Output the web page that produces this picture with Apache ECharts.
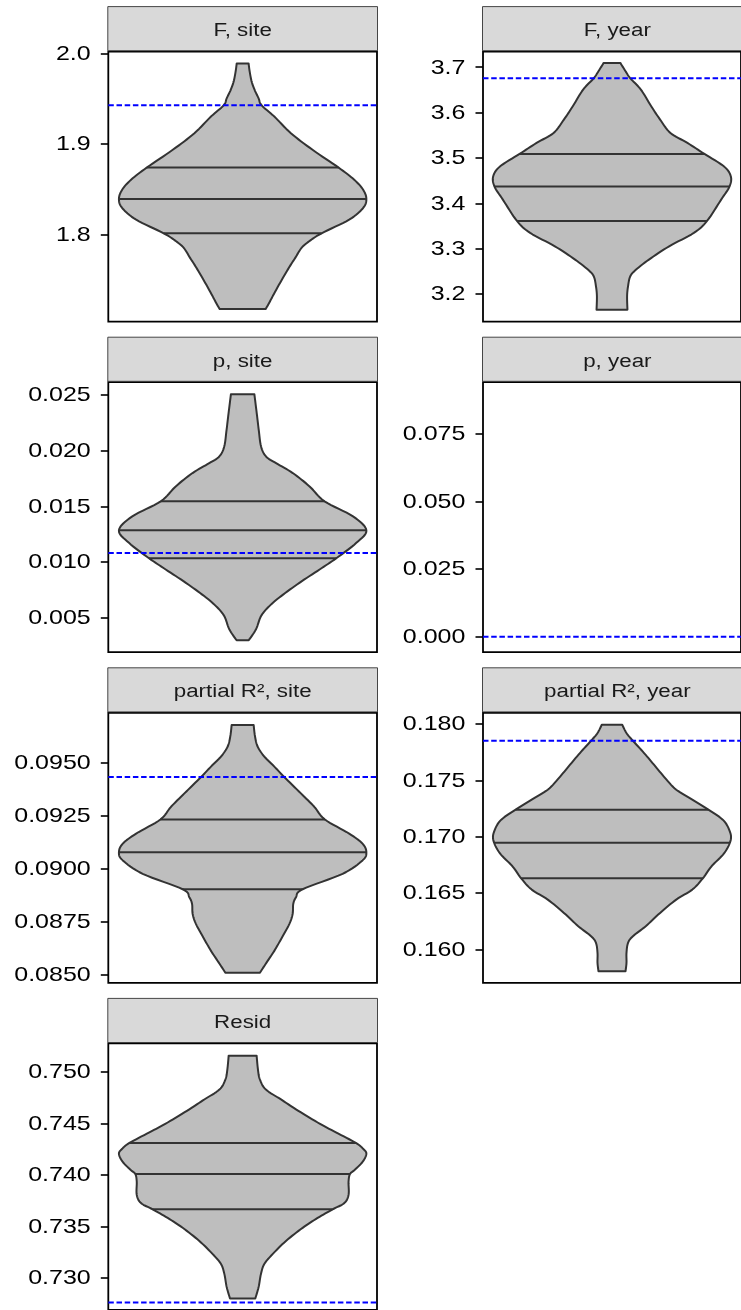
<!DOCTYPE html>
<html>
<head>
<meta charset="utf-8">
<script src="https://cdn.jsdelivr.net/npm/echarts@6/dist/echarts.min.js"></script>
<style>
  html, body { margin: 0; padding: 0; background: #ffffff; }
  #chart { width: 741px; height: 1310px; }
</style>
</head>
<body>
<div id="chart"></div>
<script>
// ---- Facet titles (row by row, left column then right column) ----
const panelTitles = ["F, site", "F, year", "p, site", "p, year",
                     "partial R\u00b2, site", "partial R\u00b2, year", "Resid"];

// ---- Y-axis limits per panel ----
const yMin = [1.7045, 3.1390, 0.0019, -0.0057, 0.0846, 0.15705, 0.72691];
const yMax = [2.0020, 3.7345, 0.02615, 0.0940, 0.09735, 0.18100, 0.75279];

// ---- Tick labels per panel ----
const tickLabels = [
  ["1.8", "1.9", "2.0"],
  ["3.2", "3.3", "3.4", "3.5", "3.6", "3.7"],
  ["0.005", "0.010", "0.015", "0.020", "0.025"],
  ["0.000", "0.025", "0.050", "0.075"],
  ["0.0850", "0.0875", "0.0900", "0.0925", "0.0950"],
  ["0.160", "0.165", "0.170", "0.175", "0.180"],
  ["0.730", "0.735", "0.740", "0.745", "0.750"]
];

// ---- Observed value (dashed reference line) per panel ----
const observed = [1.9429, 3.6757, 0.01082, 0.0, 0.09432, 0.17852, 0.72764];

// ---- Violin outlines: y positions (top to bottom) and relative half-widths ----
const fSiteY = [1.9890, 1.9799, 1.9689, 1.9597, 1.9505, 1.9429, 1.9304, 1.9121, 1.8938, 1.8744,
                1.8608, 1.8498, 1.8396, 1.8297, 1.8168, 1.8018, 1.7930, 1.7857, 1.7747, 1.7656,
                1.7509, 1.7363, 1.7253, 1.7183];
const fSiteW = [0.048, 0.057, 0.073, 0.097, 0.129, 0.153, 0.256, 0.390, 0.565, 0.773,
                0.902, 0.974, 1.000, 0.974, 0.861, 0.638, 0.538, 0.476, 0.425, 0.382,
                0.318, 0.258, 0.215, 0.186];

const fYearY = [3.7096, 3.6912, 3.6757, 3.6507, 3.6140, 3.5846, 3.5551, 3.5331, 3.5088, 3.4816,
                3.4596, 3.4368, 3.4081, 3.3610, 3.3346, 3.3051, 3.2757, 3.2537, 3.2390, 3.2169,
                3.1949, 3.1654];
const fYearW = [0.070, 0.114, 0.154, 0.243, 0.330, 0.405, 0.492, 0.635, 0.778, 0.941,
                1.000, 0.989, 0.919, 0.800, 0.689, 0.481, 0.311, 0.203, 0.154, 0.135,
                0.127, 0.130];

const pSiteY = [0.02506, 0.02336, 0.02187, 0.02037, 0.01948, 0.01888, 0.01799, 0.01679, 0.01545, 0.01410,
                0.01285, 0.01172, 0.01034, 0.00933, 0.00813, 0.00694, 0.00604, 0.00515, 0.00396, 0.00297];
const pSiteW = [0.095, 0.114, 0.130, 0.149, 0.189, 0.270, 0.405, 0.541, 0.662, 0.892,
                1.000, 0.919, 0.757, 0.622, 0.459, 0.311, 0.216, 0.149, 0.108, 0.049];

const r2SiteY = [0.096772, 0.096234, 0.095759, 0.095285, 0.094810, 0.094320, 0.093544, 0.092911, 0.092310, 0.091646,
                 0.091171, 0.090759, 0.090380, 0.089747, 0.089019, 0.088639, 0.088323, 0.087848, 0.087373, 0.086741,
                 0.086108, 0.085633, 0.085079];
const r2SiteW = [0.089, 0.100, 0.121, 0.175, 0.256, 0.336, 0.471, 0.579, 0.665, 0.861,
                 0.969, 1.000, 0.969, 0.808, 0.485, 0.431, 0.409, 0.404, 0.377, 0.318,
                 0.256, 0.202, 0.140];

const r2YearY = [0.179941, 0.179202, 0.178523, 0.177430, 0.176248, 0.175067, 0.174180, 0.173294, 0.172408, 0.171521,
                 0.170635, 0.169749, 0.168567, 0.167386, 0.166322, 0.165318, 0.164431, 0.163250, 0.162068, 0.161182,
                 0.160591, 0.159705, 0.158818, 0.158080];
const r2YearW = [0.086, 0.122, 0.176, 0.270, 0.365, 0.459, 0.541, 0.676, 0.811, 0.932,
                 0.986, 1.000, 0.946, 0.838, 0.765, 0.676, 0.541, 0.405, 0.284, 0.176,
                 0.135, 0.122, 0.122, 0.114];

const residY = [0.751597, 0.750224, 0.749265, 0.748307, 0.747348, 0.746390, 0.745112, 0.744153, 0.743131, 0.742556,
                0.742077, 0.741278, 0.740479, 0.740096, 0.739361, 0.738083, 0.737284, 0.736677, 0.735847, 0.734888,
                0.733610, 0.732332, 0.731374, 0.730415, 0.729137, 0.728019];
const residW = [0.113, 0.124, 0.140, 0.188, 0.310, 0.431, 0.606, 0.754, 0.915, 0.974,
                1.000, 0.969, 0.902, 0.867, 0.856, 0.856, 0.821, 0.727, 0.606, 0.485,
                0.350, 0.242, 0.175, 0.148, 0.129, 0.102];

// ---- Quartiles (25%, 50%, 75%) per panel ----
const fSiteQ  = [1.8018, 1.8396, 1.8744];
const fYearQ  = [3.3610, 3.4368, 3.5088];
const pSiteQ  = [0.01034, 0.01285, 0.01545];
const r2SiteQ = [0.089019, 0.090759, 0.092310];
const r2YearQ = [0.16632, 0.16948, 0.17241];
const residQ  = [0.73668, 0.74010, 0.74313];

// Violin data per panel (null: nothing drawn)
const violins = [
  { y: fSiteY,  w: fSiteW,  q: fSiteQ },
  { y: fYearY,  w: fYearW,  q: fYearQ },
  { y: pSiteY,  w: pSiteW,  q: pSiteQ },
  null,
  { y: r2SiteY, w: r2SiteW, q: r2SiteQ },
  { y: r2YearY, w: r2YearW, q: r2YearQ },
  { y: residY,  w: residW,  q: residQ }
];

// ---- Layout ----
const COL_LEFT = [108.3, 483.0];
const PANEL_W = 268.7;
const PANEL_H = 270;
const FIRST_TOP = 51.6;
const ROW_STEP = 330.6;
const STRIP_H = 45;
const X_HALF = 0.6;          // x axis spans [-0.6, 0.6]
const VIOLIN_HALF = 0.5525;  // max half-width of a violin in x units
const TEXT_WIDEN = 1.19;     // horizontal widening of all text
const LABEL_GAP = 17.6;      // axis line to tick-label distance
const FONT = "'Liberation Sans', Arial, Helvetica, sans-serif";
const INK = '#333333';

function panelBox(i) {
  const col = i % 2, row = Math.floor(i / 2);
  return { left: COL_LEFT[col], top: FIRST_TOP + row * ROW_STEP, width: PANEL_W, height: PANEL_H };
}

// Smooth curve (Catmull-Rom) through pixel points, sampled densely
function smoothCurve(pts, steps) {
  const out = [pts[0]];
  for (let i = 0; i < pts.length - 1; i++) {
    const p0 = pts[Math.max(i - 1, 0)], p1 = pts[i], p2 = pts[i + 1], p3 = pts[Math.min(i + 2, pts.length - 1)];
    for (let s = 1; s <= steps; s++) {
      const t = s / steps, t2 = t * t, t3 = t2 * t;
      const f = function (a, b, c, d) {
        return 0.5 * ((2 * b) + (-a + c) * t + (2 * a - 5 * b + 4 * c - d) * t2 + (-a + 3 * b - 3 * c + d) * t3);
      };
      out.push([f(p0[0], p1[0], p2[0], p3[0]), f(p0[1], p1[1], p2[1], p3[1])]);
    }
  }
  return out;
}

// x of a sampled curve at pixel height py
function curveXAt(curve, py) {
  for (let i = 0; i < curve.length - 1; i++) {
    const a = curve[i], b = curve[i + 1];
    if ((py >= a[1] && py <= b[1]) || (py <= a[1] && py >= b[1])) {
      const t = b[1] === a[1] ? 0 : (py - a[1]) / (b[1] - a[1]);
      return a[0] + t * (b[0] - a[0]);
    }
  }
  return null;
}

const grids = [], xAxes = [], yAxes = [], series = [], graphics = [];

panelTitles.forEach(function (title, i) {
  const box = panelBox(i);
  grids.push({
    left: box.left, top: box.top, width: box.width, height: box.height,
    show: true, backgroundColor: '#ffffff', borderColor: '#000000', borderWidth: 1.8,
    containLabel: false
  });
  xAxes.push({ type: 'value', gridIndex: i, min: -X_HALF, max: X_HALF, show: false });

  const ticks = tickLabels[i].map(Number);
  yAxes.push({
    type: 'value', gridIndex: i, min: yMin[i], max: yMax[i], position: 'left',
    axisLine: { show: false, onZero: false },
    splitLine: { show: false },
    axisTick: { show: true, length: 7.5, customValues: ticks,
                lineStyle: { color: '#000000', width: 1.6 } },
    axisLabel: { show: false }
  });

  // Strip header
  graphics.push({
    type: 'rect', silent: true, z: 10,
    shape: { x: box.left - 0.5, y: box.top - STRIP_H, width: box.width + 1, height: STRIP_H - 0.9 },
    style: { fill: '#D9D9D9', stroke: INK, lineWidth: 0.9 }
  });
  graphics.push({
    type: 'text', silent: true, z: 11,
    x: box.left + box.width / 2, y: box.top - STRIP_H / 2 + 2, scaleX: TEXT_WIDEN,
    style: { text: title, fill: '#1A1A1A',
             font: '18.8px ' + FONT, align: 'center', verticalAlign: 'middle' }
  });

  const vio = violins[i];
  if (vio) {
    series.push({
      type: 'custom', xAxisIndex: i, yAxisIndex: i, silent: true, clip: true, z: 2,
      data: [0],
      renderItem: function (params, api) {
        const right = [], left = [];
        for (let k = 0; k < vio.y.length; k++) {
          right.push(api.coord([vio.w[k] * VIOLIN_HALF, vio.y[k]]));
          left.push(api.coord([-vio.w[k] * VIOLIN_HALF, vio.y[k]]));
        }
        const rightCurve = smoothCurve(right, 8);
        const leftCurve = smoothCurve(left, 8);
        const outline = rightCurve.concat(leftCurve.slice().reverse());
        const children = [{
          type: 'polygon',
          shape: { points: outline },
          style: { fill: '#BEBEBE', stroke: INK, lineWidth: 2, lineJoin: 'round' }
        }];
        vio.q.forEach(function (q) {
          const py = api.coord([0, q])[1];
          const xr = curveXAt(rightCurve, py), xl = curveXAt(leftCurve, py);
          children.push({
            type: 'line',
            shape: { x1: xl, y1: py, x2: xr, y2: py },
            style: { stroke: INK, lineWidth: 2 }
          });
        });
        return { type: 'group', children: children };
      }
    });
  }

  // Observed value
  series.push({
    type: 'line', xAxisIndex: i, yAxisIndex: i, silent: true, z: 3,
    symbol: 'none',
    data: [[-X_HALF, observed[i]], [X_HALF, observed[i]]],
    lineStyle: { color: '#0000FF', width: 2, type: [5.5, 2.7] }
  });
});

const chart = echarts.init(document.getElementById('chart'), null, { renderer: 'canvas' });
chart.setOption({
  animation: false,
  backgroundColor: '#ffffff',
  grid: grids,
  xAxis: xAxes,
  yAxis: yAxes,
  series: series,
  graphic: graphics
});

// Tick labels, placed at each tick through the y-axis scale
panelTitles.forEach(function (title, i) {
  const box = panelBox(i);
  tickLabels[i].forEach(function (label) {
    const py = chart.convertToPixel({ yAxisIndex: i }, Number(label));
    graphics.push({
      type: 'text', silent: true, z: 11,
      x: box.left - LABEL_GAP, y: py + 0.5, scaleX: TEXT_WIDEN,
      style: { text: label, fill: '#000000',
               font: '21px ' + FONT, align: 'right', verticalAlign: 'middle' }
    });
  });
});
chart.setOption({ graphic: graphics });
</script>
</body>
</html>
